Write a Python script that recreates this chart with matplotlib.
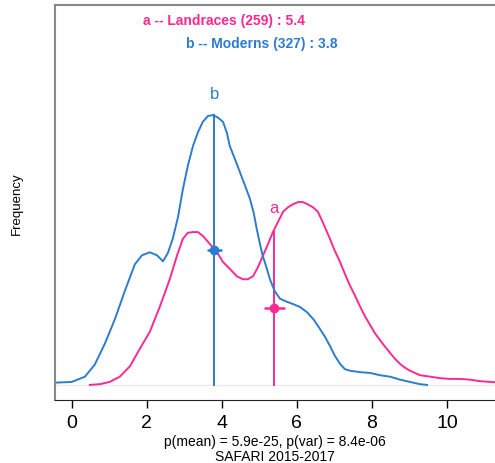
import matplotlib
matplotlib.use("Agg")
import matplotlib.pyplot as plt

plt.rcParams['font.family'] = ['Liberation Sans', 'DejaVu Sans']

pink = '#fb2a93'
blue = '#2c7ccf'

# group info
groups = ['Landraces', 'Moderns']
letters = ['a', 'b']
counts = [259, 327]
means = [5.4, 3.8]
mean_err = [0.27, 0.19]
mean_height = [0.204, 0.36]

# density curve of Moderns (b)
x_mod = [-0.45, 0.0, 0.35, 0.61, 0.88, 1.15, 1.41, 1.68, 1.87, 2.08, 2.27, 2.43, 2.56,
         2.69, 2.83, 2.96, 3.09, 3.23, 3.36, 3.49, 3.63, 3.76, 3.89, 4.03, 4.13, 4.21,
         4.35, 4.48, 4.61, 4.75, 4.85, 4.93, 5.01, 5.09, 5.2, 5.28, 5.41, 5.55, 5.73,
         5.89, 6.08, 6.27, 6.45, 6.61, 6.75, 6.88, 7.01, 7.15, 7.28, 7.41, 7.68, 7.95,
         8.21, 8.48, 8.75, 9.01, 9.28, 9.47]
y_mod = [0.003, 0.004, 0.011, 0.027, 0.055, 0.088, 0.125, 0.161, 0.173, 0.177, 0.173,
         0.165, 0.176, 0.195, 0.224, 0.261, 0.292, 0.319, 0.337, 0.351, 0.359, 0.36,
         0.357, 0.351, 0.337, 0.319, 0.301, 0.284, 0.267, 0.248, 0.229, 0.208, 0.189,
         0.172, 0.155, 0.141, 0.125, 0.115, 0.111, 0.108, 0.104, 0.097, 0.087, 0.075,
         0.064, 0.052, 0.039, 0.028, 0.021, 0.019, 0.017, 0.016, 0.013, 0.011, 0.007,
         0.004, 0.001, 0.0]

# density curve of Landraces (a)
x_lan = [0.48, 0.75, 1.01, 1.28, 1.55, 1.81, 2.08, 2.35, 2.61, 2.8, 2.96, 3.09, 3.23,
         3.36, 3.49, 3.68, 3.87, 4.03, 4.21, 4.4, 4.56, 4.69, 4.83, 4.96, 5.09, 5.23,
         5.36, 5.49, 5.63, 5.76, 5.89, 6.03, 6.16, 6.29, 6.43, 6.56, 6.69, 6.88, 7.01,
         7.15, 7.28, 7.41, 7.55, 7.68, 7.81, 7.95, 8.08, 8.21, 8.35, 8.48, 8.61, 8.75,
         8.88, 9.01, 9.28, 9.55, 9.81, 10.08, 10.35, 10.61, 10.88, 11.15, 11.41]
y_lan = [0.0, 0.001, 0.004, 0.011, 0.025, 0.048, 0.071, 0.105, 0.141, 0.172, 0.195,
         0.203, 0.204, 0.204, 0.199, 0.188, 0.177, 0.164, 0.155, 0.145, 0.141, 0.141,
         0.145, 0.157, 0.172, 0.188, 0.204, 0.217, 0.231, 0.237, 0.241, 0.244, 0.244,
         0.241, 0.237, 0.231, 0.217, 0.195, 0.179, 0.164, 0.148, 0.133, 0.119, 0.105,
         0.092, 0.08, 0.069, 0.06, 0.051, 0.043, 0.035, 0.028, 0.023, 0.019, 0.013,
         0.011, 0.009, 0.008, 0.008, 0.007, 0.005, 0.004, 0.003]

fig = plt.figure(figsize=(4.95, 4.64), dpi=100)
ax = fig.add_axes([0.111, 0.136, 0.889, 0.851])

ax.axhline(0, color='#eeeeee', lw=1, zorder=0)

curves = [(x_lan, y_lan), (x_mod, y_mod)]
colors = [pink, blue]
label_y = [0.237, 0.389]
for i in range(2):
    ax.plot(curves[i][0], curves[i][1], color=colors[i], lw=1.4,
            solid_joinstyle='round')
    ax.plot([means[i], means[i]], [0, mean_height[i]], color=colors[i], lw=1.4)
    ax.errorbar(means[i], mean_height[i] / 2, xerr=mean_err[i], fmt='o',
                color=colors[i], ms=6, elinewidth=1.8, capsize=0)
    ax.text(means[i], label_y[i], letters[i], color=colors[i], fontsize=12,
            ha='center', va='center')

# header lines
ax.text(0.385, 0.963, '%s -- %s (%d) : %.1f' % (letters[0], groups[0], counts[0], means[0]),
        transform=ax.transAxes, color=pink, fontsize=10, fontweight='bold',
        ha='center', va='center')
ax.text(0.47, 0.903, '%s -- %s (%d) : %.1f' % (letters[1], groups[1], counts[1], means[1]),
        transform=ax.transAxes, color=blue, fontsize=10, fontweight='bold',
        ha='center', va='center')

ax.set_xlim(-0.45, 11.28)
ax.set_ylim(-0.02, 0.507)
ax.set_xticks([0, 2, 4, 6, 8, 10])
ax.set_yticks([])
ax.tick_params(axis='x', labelsize=14, length=6, width=1, pad=4)

ax.spines['right'].set_visible(False)
ax.spines['left'].set_color('#888888')
ax.spines['left'].set_linewidth(1.5)
ax.spines['top'].set_color('#888888')
ax.spines['top'].set_linewidth(1.5)
ax.spines['bottom'].set_color('#222222')

ax.set_ylabel('Frequency', fontsize=9.5, labelpad=23)
ax.set_xlabel('p(mean) = 5.9e-25, p(var) = 8.4e-06\nSAFARI 2015-2017', fontsize=10,
              labelpad=2, linespacing=1.15)

fig.savefig('out.png', dpi=100)
